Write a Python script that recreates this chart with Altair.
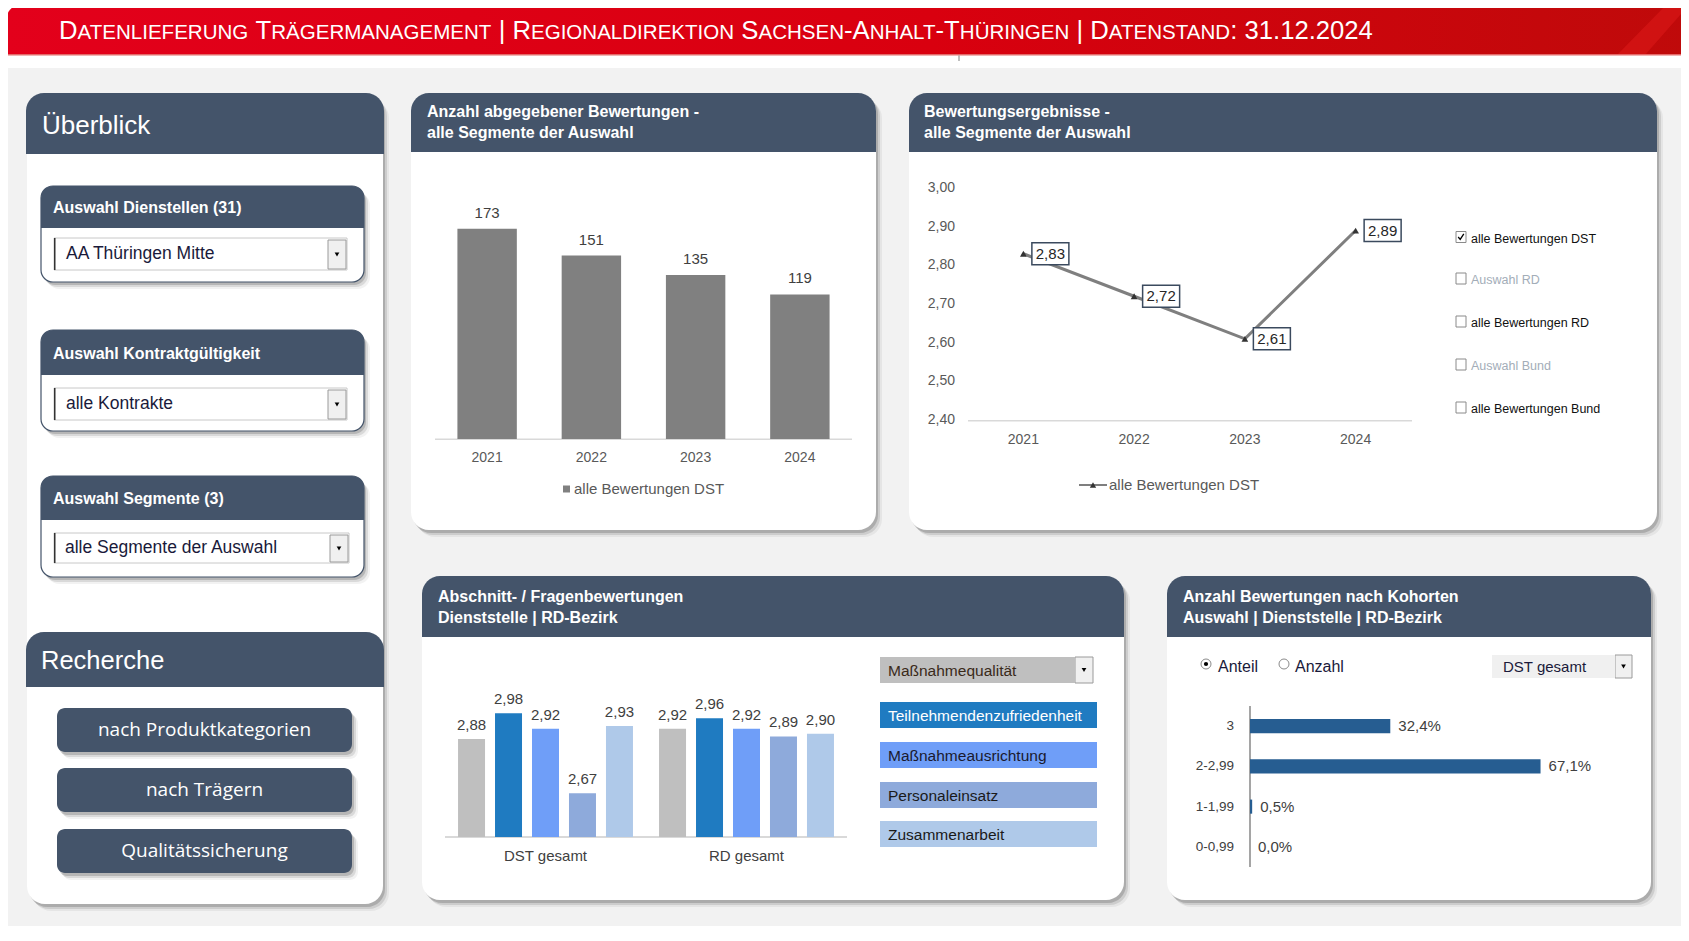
import altair as alt
import pandas as pd

# ------------------------------------------------------------------ data
years = ["2021", "2022", "2023", "2024"]
bewertungen_anzahl = [173, 151, 135, 119]
bewertung_dst = [2.83, 2.72, 2.61, 2.89]
y_ticks_line = [3.00, 2.90, 2.80, 2.70, 2.60, 2.50, 2.40]

gruppen = ["DST gesamt", "RD gesamt"]
abschnitte = ["Maßnahmequalität", "Teilnehmendenzufriedenheit", "Maßnahmeausrichtung",
              "Personaleinsatz", "Zusammenarbeit"]
werte_dst = [2.88, 2.98, 2.92, 2.67, 2.93]
werte_rd = [2.92, 2.96, 2.92, 2.89, 2.90]

kohorten = ["3", "2-2,99", "1-1,99", "0-0,99"]
anteile = [32.4, 67.1, 0.5, 0.0]

legend_line = ["alle Bewertungen DST", "Auswahl RD", "alle Bewertungen RD",
               "Auswahl Bund", "alle Bewertungen Bund"]
legend_line_checked = [True, False, False, False, False]
legend_line_enabled = [True, False, True, False, True]

titel = "Datenlieferung Trägermanagement | Regionaldirektion Sachsen-Anhalt-Thüringen | Datenstand: 31.12.2024"

# ------------------------------------------------------------------ style / layout
SLATE = "#44546a"
FONT = "Liberation Sans"
palette = ["#bfbfbf", "#1f7bc1", "#6f9ef8", "#8eaadb", "#afc9e9"]
palette_text = ["#3a2a1a", "#ffffff", "#1a1a2e", "#1a1a1a", "#1a1a1a"]

W, H = 1673, 918
OX, OY = 8, 8


def cx(v):
    return v - OX


def cy(v):
    return v - OY


PXS = alt.Scale(domain=[0, W], range=[0, W], zero=False, nice=False)
PYS = alt.Scale(domain=[0, H], range=[0, H], zero=False, nice=False)


def rect_layer(rows, **kw):
    df = pd.DataFrame([{"x0": cx(r[0]), "y0": cy(r[1]), "x1": cx(r[2]), "y1": cy(r[3]), "c": r[4]}
                       for r in rows])
    return alt.Chart(df).mark_rect(**kw).encode(
        x=alt.X("x0:Q", scale=PXS, axis=None), x2="x1:Q",
        y=alt.Y("y0:Q", scale=PYS, axis=None), y2="y1:Q",
        fill=alt.Fill("c:N", scale=None))


def text_layer(rows, font=FONT, weight="normal", align="left", baseline="middle", **kw):
    df = pd.DataFrame([{"x": cx(r[0]), "y": cy(r[1]), "t": r[2], "s": r[3], "c": r[4]} for r in rows])
    return alt.Chart(df).mark_text(font=font, fontWeight=weight, align=align,
                                   baseline=baseline, **kw).encode(
        x=alt.X("x:Q", scale=PXS, axis=None),
        y=alt.Y("y:Q", scale=PYS, axis=None),
        text="t:N",
        size=alt.Size("s:Q", scale=None),
        color=alt.Color("c:N", scale=None))


def point_layer(rows, **kw):
    kw.setdefault("opacity", 1)
    df = pd.DataFrame([{"x": cx(r[0]), "y": cy(r[1])} for r in rows])
    return alt.Chart(df).mark_point(**kw).encode(
        x=alt.X("x:Q", scale=PXS, axis=None),
        y=alt.Y("y:Q", scale=PYS, axis=None))


def shadow_layers(rows, r):
    out = []
    for dx, dy, op in [(2, 3, 0.16), (4, 5, 0.10), (6, 7, 0.05)]:
        out.append(rect_layer([(a + dx, b + dy, c + dx, d + dy, "#000000") for (a, b, c, d) in rows],
                              cornerRadius=r, fillOpacity=op))
    return out


L = []

# background + banner
L.append(rect_layer([(6, 68, 1689, 941, "#f2f2f2")]))
grad = alt.LinearGradient(gradient="linear", x1=0, x2=1, y1=0, y2=0,
                          stops=[alt.GradientStop(color="#e3001b", offset=0),
                                 alt.GradientStop(color="#d9000f", offset=0.55),
                                 alt.GradientStop(color="#bf0a0a", offset=1)])
L.append(alt.Chart(pd.DataFrame({"x0": [cx(5)], "x1": [cx(1689)], "y0": [cy(3)], "y1": [cy(55)]}))
         .mark_rect(fill=grad, cornerRadiusTopLeft=20)
         .encode(x=alt.X("x0:Q", scale=PXS, axis=None), x2="x1:Q",
                 y=alt.Y("y0:Q", scale=PYS, axis=None), y2="y1:Q"))
# faint logo shape at the right end of the banner
L.append(point_layer([(1650, 29)], shape="M-0.825,0.65L-0.125,0.65L0.975,-0.6L0.975,-0.65L0.45,-0.65Z",
                     size=6400, filled=True, color="#d51616", opacity=0.75))
L.append(rect_layer([(5, 54, 1689, 55.5, "#e46a6a"), (958.5, 55.5, 959.5, 61, "#808080")]))

# banner title as pseudo small caps (Arial metrics == Liberation Sans metrics)
AW = {'A': 667, 'B': 667, 'C': 722, 'D': 722, 'E': 667, 'F': 611, 'G': 778, 'H': 722, 'I': 278,
      'J': 500, 'K': 667, 'L': 556, 'M': 833, 'N': 722, 'O': 778, 'P': 667, 'Q': 778, 'R': 722,
      'S': 667, 'T': 611, 'U': 722, 'V': 667, 'W': 944, 'X': 667, 'Y': 667, 'Z': 611, 'Ä': 667,
      'Ö': 778, 'Ü': 722, ' ': 278, '|': 260, '-': 333, ':': 278, '.': 278}
KERN = {('A', 'T'): -74, ('T', 'A'): -74, ('L', 'T'): -74, ('A', 'V'): -74, ('V', 'A'): -74,
        ('A', 'Y'): -74, ('Y', 'A'): -74, ('L', 'Y'): -74, ('L', 'V'): -74}
runs = []
cur, cur_big = "", None
for ch in titel:
    big = not ch.islower()
    if cur and big != cur_big:
        runs.append((cur, cur_big))
        cur = ""
    cur += ch
    cur_big = big
runs.append((cur, cur_big))
BIG, SMALL = 25.0, 20.0


def run_w(s, b, k=1.0):
    u = s.upper()
    em = sum(AW.get(c, 556) for c in u)
    em += sum(KERN.get((u[i], u[i + 1]), 0) for i in range(len(u) - 1))
    return em / 1000.0 * (BIG if b else SMALL) * k


tot = sum(run_w(s, b) for s, b in runs)
k = 1314.0 / tot
xpos = 59.0
title_rows = []
for s, b in runs:
    lead = len(s) - len(s.lstrip(" "))
    stripped = s.strip(" ")
    if stripped:
        title_rows.append((xpos + run_w(" " * lead, b, k), 39.3, stripped.upper(),
                           (BIG if b else SMALL) * k, "#ffffff"))
    xpos += run_w(s, b, k)
L.append(text_layer(title_rows, baseline="alphabetic"))

# panels
LEFT = (27, 93, 383, 904)
PANELS = [(411, 93, 876, 530), (909, 93, 1657, 530), (422, 576, 1124, 900), (1167, 576, 1651, 900)]
L += shadow_layers([LEFT] + PANELS, 18)
L.append(rect_layer([p + ("#ffffff",) for p in [LEFT] + PANELS], cornerRadius=18))
HEADERS = [(26, 93, 384, 154), (26, 632, 384, 687), (411, 93, 876, 152), (909, 93, 1657, 152),
           (422, 576, 1124, 637), (1167, 576, 1651, 637)]
L.append(rect_layer([h + (SLATE,) for h in HEADERS], cornerRadiusTopLeft=18, cornerRadiusTopRight=18))

# sub boxes in Überblick
SUB = [(41, 186, 364, 282, 228), (41, 330, 364, 431, 375), (41, 476, 364, 577, 520)]
L += shadow_layers([s[:4] for s in SUB], 12)
L.append(rect_layer([s[:4] + ("#ffffff",) for s in SUB], cornerRadius=12, stroke=SLATE, strokeWidth=1.2))
L.append(rect_layer([(s[0], s[1], s[2], s[4], SLATE) for s in SUB],
                    cornerRadiusTopLeft=12, cornerRadiusTopRight=12))
DROPS = [(54, 238, 347, 270), (54, 388, 347, 420), (54, 533, 349, 563)]
L.append(rect_layer([d + ("#ffffff",) for d in DROPS], stroke="#c8c8c8", strokeWidth=1))
L.append(rect_layer([(d[0], d[1], d[0] + 1.5, d[3], "#333333") for d in DROPS]))
ARROW_BTNS = [(328, 240, 346, 269), (328, 390, 346, 419), (330, 535, 348, 562),
              (1075, 657, 1093, 683), (1615, 655, 1632, 678)]
L.append(rect_layer([b + ("#f0f0f0",) for b in ARROW_BTNS], stroke="#9a9a9a", strokeWidth=1))
L.append(point_layer([((b[0] + b[2]) / 2, (b[1] + b[3]) / 2) for b in ARROW_BTNS],
                     shape="triangle-down", size=22, filled=True, color="#000000"))

# Recherche buttons
BTN = [(57, 708, 352, 752), (57, 768, 352, 812), (57, 829, 352, 873)]
L += shadow_layers(BTN, 8)
L.append(rect_layer([b + (SLATE,) for b in BTN], cornerRadius=8))

# P4 legend boxes / dropdown
LEG4 = [(880, 657, 1075, 683), (880, 702, 1097, 728), (880, 742, 1097, 768),
        (880, 782, 1097, 808), (880, 821, 1097, 847)]
L.append(rect_layer([LEG4[i] + (palette[i],) for i in range(5)]))

# P5 dropdown
L.append(rect_layer([(1492, 655, 1615, 678, "#f0f0f0")]))

# axis lines and legend symbols
L.append(rect_layer([(435, 438.5, 852, 440, "#d9d9d9"), (968, 420, 1412, 421.5, "#d9d9d9"),
                     (445, 836, 847, 838, "#d9d9d9"), (1249.3, 706, 1250.7, 867, "#7f7f7f"),
                     (563, 485.5, 570, 492.5, "#808080"), (1079, 484, 1107, 486, "#7f7f7f")]))
L.append(point_layer([(1093, 485)], shape="triangle-up", size=40, filled=True, color="#333333"))

# P3 checkbox legend
LEG3_Y = [237.5, 279, 322, 365, 408]
L.append(rect_layer([(1456, y - 6, 1466, y + 5, "#ffffff") for y in LEG3_Y], stroke="#8a8a8a",
                    strokeWidth=1))
L.append(point_layer([(1461, LEG3_Y[i] - 0.5) for i in range(5) if legend_line_checked[i]],
                     shape="M-0.7,0L-0.2,0.6L0.7,-0.8", size=64, filled=False, color="#000000",
                     strokeWidth=1.3))
L.append(text_layer([(1471, LEG3_Y[i] + 1, legend_line[i], 12.5,
                      "#111111" if legend_line_enabled[i] else "#a3adb8") for i in range(5)]))

# P5 radio buttons
L.append(point_layer([(1206, 664), (1284, 664)], shape="circle", size=100, filled=True, color="#ffffff",
                     stroke="#8a8a8a", strokeWidth=1))
L.append(point_layer([(1206, 664)], shape="circle", size=18, filled=True, color="#000000"))

# header / ui texts
L.append(text_layer([(42, 126, "Überblick", 26, "#ffffff"), (41, 661, "Recherche", 25.5, "#ffffff")]))
L.append(text_layer([
    (427, 112, "Anzahl abgegebener Bewertungen -", 16, "#ffffff"),
    (427, 133, "alle Segmente der Auswahl", 16, "#ffffff"),
    (924, 112, "Bewertungsergebnisse -", 16, "#ffffff"),
    (924, 133, "alle Segmente der Auswahl", 16, "#ffffff"),
    (438, 597, "Abschnitt- / Fragenbewertungen", 16, "#ffffff"),
    (438, 618, "Dienststelle | RD-Bezirk", 16, "#ffffff"),
    (1183, 597, "Anzahl Bewertungen nach Kohorten", 16, "#ffffff"),
    (1183, 618, "Auswahl | Dienststelle | RD-Bezirk", 16, "#ffffff"),
    (53, 208, "Auswahl Dienstellen (31)", 16, "#ffffff"),
    (53, 354, "Auswahl Kontraktgültigkeit", 16, "#ffffff"),
    (53, 499, "Auswahl Segmente (3)", 16, "#ffffff"),
], weight="bold"))
L.append(text_layer([
    (66, 254, "AA Thüringen Mitte", 17.5, "#1a1a3a"),
    (66, 404, "alle Kontrakte", 17.5, "#1a1a3a"),
    (65, 548, "alle Segmente der Auswahl", 17.5, "#1a1a3a"),
    (1218, 667, "Anteil", 16, "#1a1a3a"),
    (1295, 667, "Anzahl", 16, "#1a1a3a"),
    (1503, 667, "DST gesamt", 15, "#1a1a3a"),
    (574, 489, "alle Bewertungen DST", 15, "#595959"),
    (1109, 485, "alle Bewertungen DST", 15, "#595959"),
] + [(888, (LEG4[i][1] + LEG4[i][3]) / 2 + 0.5, abschnitte[i], 15.5, palette_text[i]) for i in range(5)]))
L.append(text_layer([((b[0] + b[2]) / 2, (b[1] + b[3]) / 2, t, 19, "#ffffff")
                     for b, t in zip(BTN, ["nach Produktkategorien", "nach Trägern", "Qualitätssicherung"])],
                    font="Open Sans", align="center"))

# ------------------------------------------------------------------ P2: bar chart
df_bar = pd.DataFrame({"Jahr": years, "Anzahl": bewertungen_anzahl})
xb = alt.Scale(type="band", domain=years, range=[cx(435), cx(852)], paddingInner=0.43, paddingOuter=0.215)
yb = alt.Scale(domain=[0, 200], range=[cy(439), cy(196)], nice=False, zero=True)
base_b = alt.Chart(df_bar).encode(x=alt.X("Jahr:N", scale=xb, axis=None))
L.append(base_b.mark_bar(color="#808080").encode(y=alt.Y("Anzahl:Q", scale=yb, axis=None)))
L.append(base_b.mark_text(font=FONT, fontSize=15, color="#404040", dy=-16, baseline="middle")
         .encode(y=alt.Y("Anzahl:Q", scale=yb, axis=None), text="Anzahl:Q"))
L.append(base_b.mark_text(font=FONT, fontSize=14, color="#595959", baseline="middle")
         .encode(y=alt.value(cy(458)), text="Jahr:N"))

# ------------------------------------------------------------------ P3: line chart
df_line = pd.DataFrame({"Jahr": years, "Wert": bewertung_dst,
                        "Label": [f"{v:.2f}".replace(".", ",") for v in bewertung_dst]})
xl = alt.Scale(type="point", domain=years, range=[cx(968), cx(1411)], padding=0.5)
yl = alt.Scale(domain=[2.4, 3.0], range=[cy(420), cy(188)], zero=False, nice=False)
base_l = alt.Chart(df_line).encode(x=alt.X("Jahr:N", scale=xl, axis=None),
                                   y=alt.Y("Wert:Q", scale=yl, axis=None))
L.append(base_l.mark_line(color="#7f7f7f", strokeWidth=3))
L.append(base_l.mark_point(shape="M0.17,-0.22L0.91,-0.22L0.91,0.22L0.17,0.22Z", size=10000,
                           filled=True, color="#ffffff", stroke="#3b4a5e", strokeWidth=1.5, opacity=1))
L.append(base_l.mark_point(shape="triangle-up", size=45, filled=True, color="#333333", opacity=1))
L.append(base_l.mark_text(font=FONT, fontSize=15, color="#262626", dx=27, baseline="middle")
         .encode(text="Label:N"))
df_yt = pd.DataFrame({"v": y_ticks_line, "lab": [f"{v:.2f}".replace(".", ",") for v in y_ticks_line]})
L.append(alt.Chart(df_yt).mark_text(font=FONT, fontSize=14, color="#595959", align="right",
                                    baseline="middle")
         .encode(x=alt.value(cx(955)), y=alt.Y("v:Q", scale=yl, axis=None), text="lab:N"))
L.append(alt.Chart(df_line).mark_text(font=FONT, fontSize=14, color="#595959", baseline="middle")
         .encode(x=alt.X("Jahr:N", scale=xl, axis=None), y=alt.value(cy(440)), text="Jahr:N"))

# ------------------------------------------------------------------ P4: grouped bars
rows_g = []
for g, vals in zip(gruppen, [werte_dst, werte_rd]):
    for a, v in zip(abschnitte, vals):
        rows_g.append({"Gruppe": g, "Abschnitt": a, "Wert": v, "Label": f"{v:.2f}".replace(".", ",")})
df_g = pd.DataFrame(rows_g)
xg = alt.Scale(type="band", domain=gruppen, range=[cx(445), cx(847)], paddingInner=0.08, paddingOuter=0.04)
xo = alt.Scale(type="band", domain=abschnitte, paddingInner=0.27, paddingOuter=0.135)
yg = alt.Scale(domain=[2.5, 3.0], range=[cy(837), cy(708)], zero=False, nice=False)
base_g = alt.Chart(df_g).encode(x=alt.X("Gruppe:N", scale=xg, axis=None),
                                xOffset=alt.XOffset("Abschnitt:N", scale=xo),
                                y=alt.Y("Wert:Q", scale=yg, axis=None))
bars_g = base_g.mark_bar().encode(
    y2=alt.datum(2.5),
    color=alt.Color("Abschnitt:N", scale=alt.Scale(domain=abschnitte, range=palette), legend=None))
labels_g = base_g.mark_text(font=FONT, fontSize=15, color="#404040", dy=-14, baseline="middle").encode(
    text="Label:N")
L.append(alt.layer(bars_g, labels_g))
L.append(alt.Chart(pd.DataFrame({"Gruppe": gruppen})).mark_text(font=FONT, fontSize=15, color="#404040",
                                                               baseline="middle")
         .encode(x=alt.X("Gruppe:N", scale=xg, axis=None), y=alt.value(cy(856)), text="Gruppe:N"))

# ------------------------------------------------------------------ P5: horizontal bars
df_k = pd.DataFrame({"Kohorte": kohorten, "Anteil": anteile,
                     "Label": [f"{v:.1f}%".replace(".", ",") for v in anteile]})
xk = alt.Scale(domain=[0, 70], range=[cx(1250), cx(1250) + 303.1], zero=True, nice=False)
yk = alt.Scale(type="band", domain=kohorten, range=[cy(706), cy(867)], paddingInner=0.65, paddingOuter=0.325)
base_k = alt.Chart(df_k).encode(y=alt.Y("Kohorte:N", scale=yk, axis=None))
L.append(base_k.mark_bar(color="#265d91").encode(x=alt.X("Anteil:Q", scale=xk, axis=None)))
L.append(base_k.mark_text(font=FONT, fontSize=15, color="#404040", align="left", dx=8, baseline="middle")
         .encode(x=alt.X("Anteil:Q", scale=xk, axis=None), text="Label:N"))
L.append(base_k.mark_text(font=FONT, fontSize=13.5, color="#404040", align="right", baseline="middle")
         .encode(x=alt.value(cx(1234)), text="Kohorte:N"))

chart = (alt.layer(*L)
         .resolve_scale(x="independent", y="independent", color="independent", fill="independent",
                        size="independent", xOffset="independent")
         .properties(width=W, height=H, autosize=alt.AutoSizeParams(type="none"), padding=0,
                     background="#ffffff")
         .configure_view(stroke=None))

chart.save("out.html", embed_options={"renderer": "svg", "actions": False})
